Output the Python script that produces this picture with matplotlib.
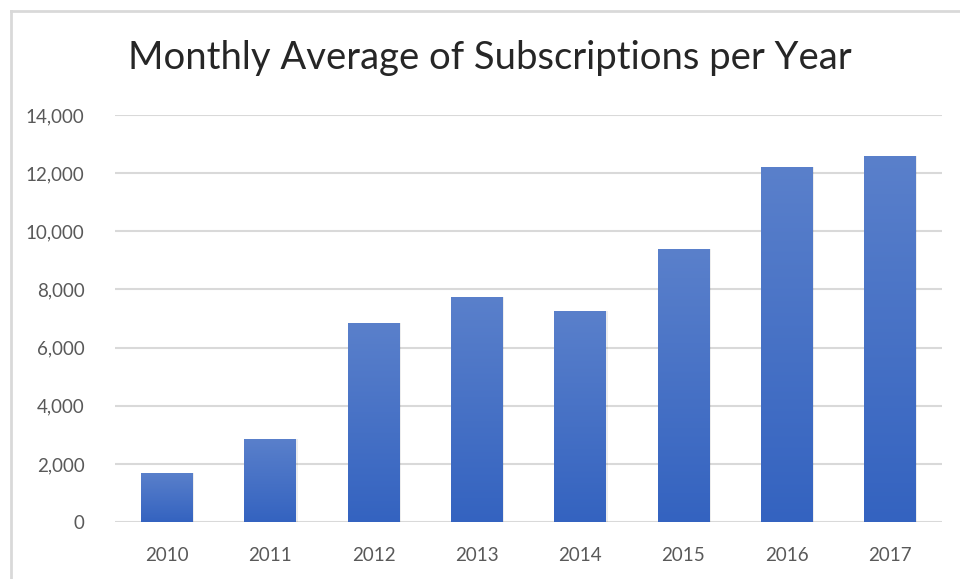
import numpy as np
import matplotlib.pyplot as plt
from matplotlib.patches import Rectangle
from matplotlib.lines import Line2D
from matplotlib.colors import LinearSegmentedColormap
from matplotlib.ticker import FuncFormatter

years = ["2010", "2011", "2012", "2013", "2014", "2015", "2016", "2017"]
subscriptions = [1700, 2870, 6830, 7750, 7270, 9380, 12220, 12590]

plt.rcParams['font.family'] = ['Lato', 'DejaVu Sans']

fig = plt.figure(figsize=(9.6, 5.79), dpi=100)
ax = fig.add_axes([0.12, 0.0984, 0.861, 0.7030])

# frame of the chart area (runs off the right and bottom edges)
fig.add_artist(Line2D([0.0115, 0.0115], [-0.1, 0.981], color="#d9d9d9", lw=2))
fig.add_artist(Line2D([0.0115, 1.1], [0.981, 0.981], color="#d9d9d9", lw=2))

x = np.arange(len(years))
bars = ax.bar(x, subscriptions, width=0.5, color="none", zorder=3)

# vertical gradient inside each bar
grad_cmap = LinearSegmentedColormap.from_list("bar", ["#3463c0", "#5a80cb"])
grad = np.linspace(0, 1, 256).reshape(-1, 1)
for b in bars:
    x0, y0 = b.get_x(), b.get_y()
    w, h = b.get_width(), b.get_height()
    # soft shadow
    ax.add_patch(Rectangle((x0 + 0.015, y0), w, h, color="#000000",
                           alpha=0.07, lw=0, zorder=2))
    im = ax.imshow(grad, cmap=grad_cmap, origin="lower", aspect="auto",
                   extent=[x0, x0 + w, y0, y0 + h], zorder=3)
    im.set_clip_path(b)

ax.set_xlim(-0.5, len(years) - 0.5)
ax.set_ylim(0, 14000)
ax.set_yticks(np.arange(0, 14001, 2000))
ax.yaxis.set_major_formatter(FuncFormatter(lambda v, p: f"{int(v):,}"))
ax.set_xticks(x)
ax.set_xticklabels(years)

ax.grid(axis="y", color="#d9d9d9", lw=1.5, zorder=0)
ax.set_axisbelow(True)
for s in ax.spines.values():
    s.set_visible(False)
ax.tick_params(length=0, labelsize=13.5, labelcolor="#595959")
ax.tick_params(axis="y", pad=22)
ax.tick_params(axis="x", pad=18)

fig.text(0.51, 0.90, "Monthly Average of Subscriptions per Year",
         ha="center", va="center", fontsize=27.5, color="#262626")

fig.savefig("out.png", dpi=100)
